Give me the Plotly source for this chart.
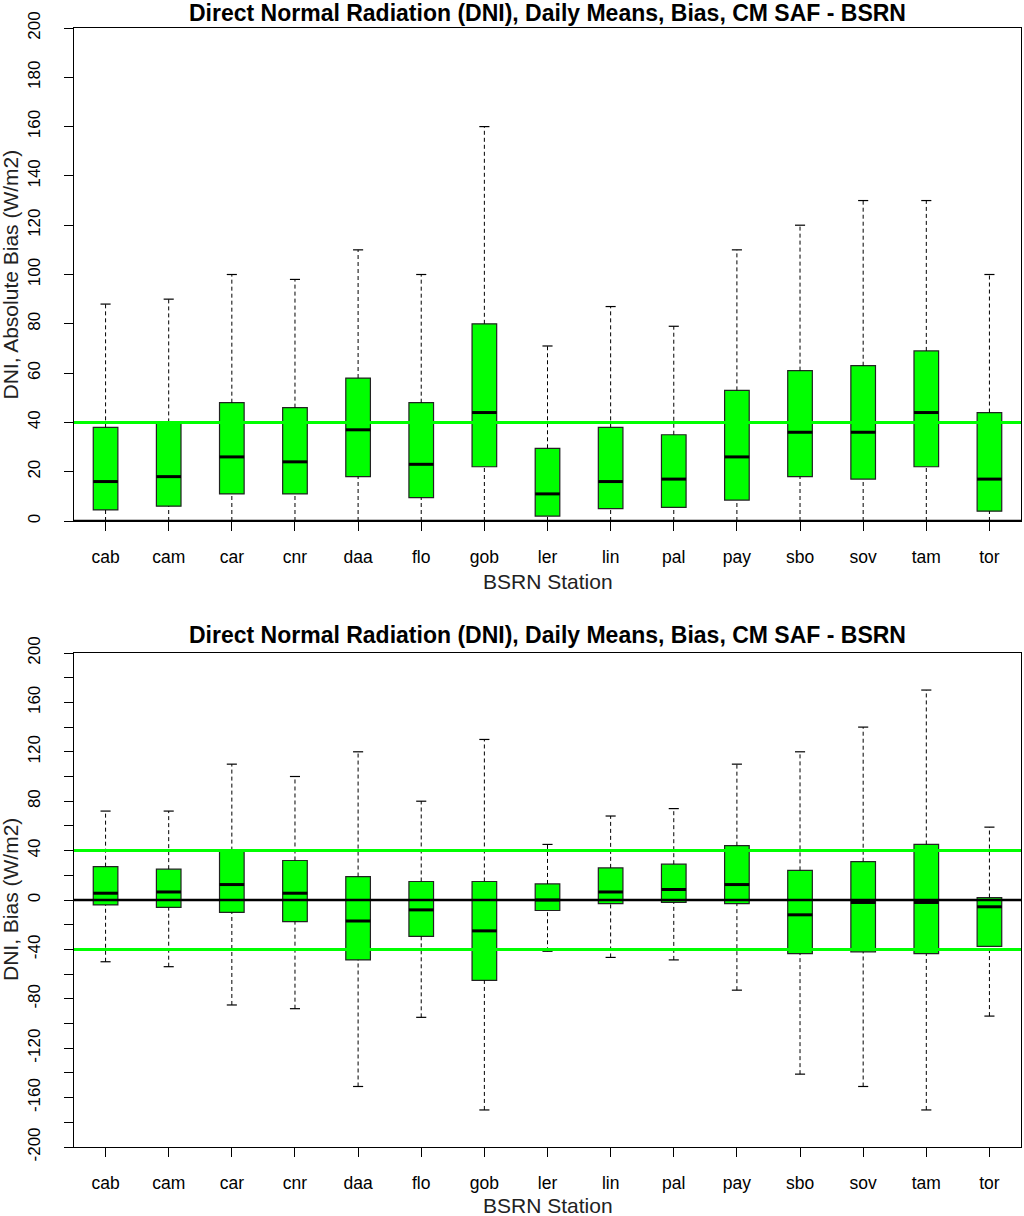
import plotly.graph_objects as go

stations = ['cab', 'cam', 'car', 'cnr', 'daa', 'flo', 'gob', 'ler',
            'lin', 'pal', 'pay', 'sbo', 'sov', 'tam', 'tor']
pos = [1, 2, 3, 4, 5, 6, 7, 8, 9, 10, 11, 12, 13, 14, 15]

# absolute bias (top panel)
abs_upper = [88, 90, 100, 98, 110, 100, 160, 71, 87, 79, 110, 120, 130, 130, 100]
abs_q3 = [38, 40, 48, 46, 58, 48, 80, 29.5, 38, 35, 53, 61, 63, 69, 44]
abs_med = [16, 18, 26, 24, 37, 23, 44, 11, 16, 17, 26, 36, 36, 44, 17]
abs_q1 = [4.5, 6, 11, 11, 18, 9.5, 22, 2, 5, 5.5, 8.5, 18, 17, 22, 4]
abs_lower = [0, 0, 0, 0, 0, 0, 0, 0, 0, 0, 0, 0, 0, 0, 0]

# bias (bottom panel)
bias_upper = [72, 72, 110, 100, 120, 80, 130, 45, 68, 74, 110, 120, 140, 170, 59]
bias_q3 = [27, 25, 40, 32, 19, 15, 15, 13, 26, 29, 44, 24, 31, 45, 2]
bias_med = [5.5, 6.5, 12.5, 5.5, -17, -8, -25, 0, 6.5, 8.5, 12.5, -12, -2, -2, -5.5]
bias_q1 = [-4, -6, -10, -17.5, -48.5, -29.5, -65, -8.5, -3, -2, -3, -43.5, -42, -43.5, -37.5]
bias_lower = [-50, -54, -85, -88, -151, -95, -170, -41.5, -46.5, -48.5, -73, -141, -151, -170, -94]

top_ticks = [0, 20, 40, 60, 80, 100, 120, 140, 160, 180, 200]
bot_ticks = [-200, -180, -160, -140, -120, -100, -80, -60, -40, -20, 0,
             20, 40, 60, 80, 100, 120, 140, 160, 180, 200]
bot_labels = ['-200', '', '-160', '', '-120', '', '-80', '', '-40', '', '0',
              '', '40', '', '80', '', '120', '', '160', '', '200']

green_top = [40]
green_bot = [40, -40]
black_top = [0]
black_bot = [0]

title = 'Direct Normal Radiation (DNI), Daily Means, Bias, CM SAF - BSRN'
FONT = 'Liberation Sans'
GREEN = '#00ff00'
BOXW = 0.39
CAPW = 0.08


def add_panel(fig, xa, ya, q1, med, q3, lo, hi):
    # whiskers (dashed) and caps
    wx, wy, cx, cy, mx, my = [], [], [], [], [], []
    for p, a, b, c, d, m in zip(pos, lo, q1, q3, hi, med):
        wx += [p, p, None, p, p, None]
        wy += [a, b, None, c, d, None]
        cx += [p - CAPW, p + CAPW, None, p - CAPW, p + CAPW, None]
        cy += [a, a, None, d, d, None]
        mx += [p - BOXW / 2, p + BOXW / 2, None]
        my += [m, m, None]
    fig.add_trace(go.Scatter(x=wx, y=wy, mode='lines', xaxis=xa, yaxis=ya,
                             line=dict(color='black', width=1, dash='4px,3px'),
                             showlegend=False, hoverinfo='skip'))
    fig.add_trace(go.Scatter(x=cx, y=cy, mode='lines', xaxis=xa, yaxis=ya,
                             line=dict(color='black', width=1.2),
                             showlegend=False, hoverinfo='skip'))
    fig.add_trace(go.Box(x=pos, q1=q1, median=med, q3=q3,
                         lowerfence=q1, upperfence=q3,
                         width=BOXW, fillcolor=GREEN, boxpoints=False,
                         line=dict(color='#222222', width=1.2),
                         xaxis=xa, yaxis=ya, showlegend=False))
    fig.add_trace(go.Scatter(x=mx, y=my, mode='lines', xaxis=xa, yaxis=ya,
                             line=dict(color='black', width=3),
                             showlegend=False, hoverinfo='skip'))


def hline(fig, xa, ya, v, color):
    fig.add_shape(type='line', xref=xa + ' domain', yref=ya, x0=0, x1=1, y0=v, y1=v,
                  line=dict(color=color, width=3 if color == GREEN else 2.5),
                  layer='above')


fig = go.Figure()
add_panel(fig, 'x', 'y', abs_q1, abs_med, abs_q3, abs_lower, abs_upper)
add_panel(fig, 'x2', 'y2', bias_q1, bias_med, bias_q3, bias_lower, bias_upper)

for v in green_top:
    hline(fig, 'x', 'y', v, GREEN)
for v in black_top:
    hline(fig, 'x', 'y', v, 'black')
for v in green_bot:
    hline(fig, 'x2', 'y2', v, GREEN)
for v in black_bot:
    hline(fig, 'x2', 'y2', v, 'black')

W, H = 1024, 1216
xdom = [74 / W, 1021 / W]
ytop = [1 - 521 / H, 1 - 28 / H]
ybot = [1 - 1147 / H, 1 - 653 / H]

xcommon = dict(range=[0.5, 15.5], tickmode='array', tickvals=pos, ticktext=stations,
               showline=True, mirror=True, linecolor='black', linewidth=1,
               ticks='outside', ticklen=9, tickcolor='black', showgrid=False,
               zeroline=False, ticklabelstandoff=11, automargin=False,
               tickfont=dict(family=FONT, size=17.5, color='black'))
ycommon = dict(showline=True, mirror=True, linecolor='black', linewidth=1,
               ticks='outside', ticklen=9, tickcolor='black', showgrid=False,
               zeroline=False, tickangle=-90, ticklabelstandoff=17, automargin=False,
               tickfont=dict(family=FONT, size=17, color='black'))

fig.update_layout(
    width=W, height=H,
    margin=dict(l=0, r=0, t=0, b=0, autoexpand=False),
    paper_bgcolor='white', plot_bgcolor='white',
    xaxis=dict(domain=xdom, anchor='y', **xcommon),
    xaxis2=dict(domain=xdom, anchor='y2', **xcommon),
    yaxis=dict(domain=ytop, anchor='x', range=[0, 200], tickvals=top_ticks,
               ticktext=[str(t) for t in top_ticks], **ycommon),
    yaxis2=dict(domain=ybot, anchor='x2', range=[-200, 200], tickvals=bot_ticks,
                ticktext=bot_labels, **ycommon),
)

xc = (xdom[0] + xdom[1]) / 2
ann = [
    dict(text='<b>' + title + '</b>', x=xc, y=1 - 13 / H, font=dict(size=23)),
    dict(text='<b>' + title + '</b>', x=xc, y=1 - 635 / H, font=dict(size=23)),
    dict(text='BSRN Station', x=xc, y=1 - 581 / H, font=dict(size=21, color='#222222')),
    dict(text='BSRN Station', x=xc, y=1 - 1205 / H, font=dict(size=21, color='#222222')),
    dict(text='DNI, Absolute Bias (W/m2)', x=10 / W, y=1 - 274.5 / H, textangle=-90,
         font=dict(size=21, color='#222222')),
    dict(text='DNI, Bias (W/m2)', x=10 / W, y=1 - 900 / H, textangle=-90,
         font=dict(size=21, color='#222222')),
]
for a in ann:
    f = dict(family=FONT, color='black')
    f.update(a.pop('font'))
    fig.add_annotation(xref='paper', yref='paper', showarrow=False,
                       xanchor='center', yanchor='middle', font=f, **a)

# drop the page's default body margin so the figure sits at the window corner
fig.write_html('out.html', config={'displayModeBar': False},
               post_script="document.body.style.margin='0px';")
